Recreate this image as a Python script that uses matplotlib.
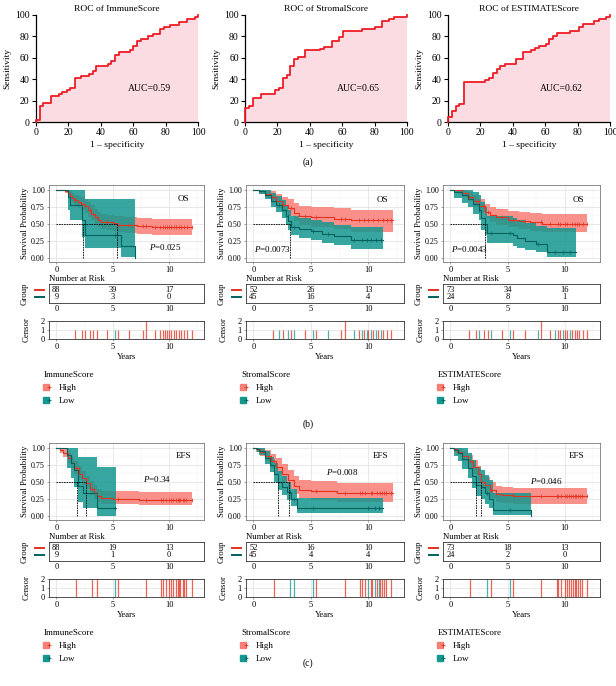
import numpy as np
import matplotlib
matplotlib.use('Agg')
import matplotlib.pyplot as plt
from matplotlib.lines import Line2D
from matplotlib.legend_handler import HandlerTuple

plt.rcParams['font.family'] = ['Liberation Serif', 'DejaVu Serif']
plt.rcParams['mathtext.fontset'] = 'custom'
plt.rcParams['mathtext.it'] = 'Liberation Serif:italic'
plt.rcParams['mathtext.rm'] = 'Liberation Serif'

# ---------------- ROC data ----------------
roc_names = ['ImmuneScore', 'StromalScore', 'ESTIMATEScore']
roc_auc = ['0.59', '0.65', '0.62']
roc1_fpr = [0, 0, 2.5, 4.5, 9, 14, 16, 19, 21, 24, 28, 33, 35, 37, 44.5, 46.5, 49, 51, 58, 60, 62.5, 65, 69, 72, 76.5, 79, 83, 88, 93, 98, 100]
roc1_tpr = [0, 2, 15, 18, 24, 26, 28, 30, 32, 41, 43, 45, 48, 52, 54, 57, 63, 65, 67, 71, 76, 78, 80, 82, 87, 89, 91, 93, 96, 98, 100]
roc2_fpr = [0, 0, 2.7, 5, 9.7, 18.6, 21, 23.3, 25.8, 28, 30.5, 33, 37, 46.4, 48.5, 53.6, 58, 60.4, 72, 80, 84.5, 89, 91.8, 100]
roc2_tpr = [0, 13, 15, 22, 26, 30, 32, 41, 44, 52, 59, 61, 67, 68, 70, 76, 79, 85, 87, 89, 94, 96, 98, 100]
roc3_fpr = [0, 0, 2.5, 5, 7, 9.7, 23, 25.3, 27.7, 30, 32, 35, 42, 46.6, 51, 54, 56, 60.6, 62.6, 65, 67.5, 75, 81, 83.6, 90, 93, 97.7, 100]
roc3_tpr = [0, 5, 10, 15, 17, 37, 39, 41, 46, 50, 52, 54, 59, 65, 67, 69, 71, 73, 78, 80, 83, 85, 89, 92, 94, 96, 98, 100]

# ---------------- KM data (b: OS, c: EFS) ----------------
# ImmuneScore OS
b1_hi_t = [0, 0.8, 1.0, 1.2, 1.4, 1.6, 1.9, 2.2, 2.5, 2.8, 3.1, 3.4, 3.7, 4.0, 4.5, 5.0, 5.4, 6.0, 7.2, 8.5, 12.0]
b1_hi_s = [1.00, 0.98, 0.95, 0.91, 0.88, 0.85, 0.82, 0.79, 0.76, 0.70, 0.65, 0.60, 0.56, 0.53, 0.52, 0.51, 0.49, 0.48, 0.47, 0.45, 0.45]
b1_hi_lo = [1.00, 0.95, 0.90, 0.85, 0.81, 0.77, 0.73, 0.70, 0.66, 0.60, 0.55, 0.50, 0.46, 0.43, 0.41, 0.40, 0.38, 0.37, 0.35, 0.34, 0.34]
b1_hi_up = [1.00, 1.00, 1.00, 0.98, 0.95, 0.93, 0.91, 0.89, 0.87, 0.82, 0.77, 0.72, 0.68, 0.65, 0.63, 0.62, 0.61, 0.60, 0.58, 0.57, 0.57]
b1_lo_t = [0, 1.0, 1.2, 2.3, 2.5, 5.75, 7.0]
b1_lo_s = [1.00, 0.89, 0.78, 0.56, 0.33, 0.17, 0.00]
b1_lo_lo = [1.00, 0.70, 0.55, 0.30, 0.14, 0.02, 0.00]
b1_lo_up = [1.00, 1.00, 1.00, 1.00, 0.87, 0.87, 0.87]
b1_med = [2.4, 5.4]
# StromalScore OS
b2_hi_t = [0, 0.5, 1.0, 1.5, 2.0, 2.5, 3.0, 3.5, 4.0, 5.0, 7.0, 8.5, 12.1]
b2_hi_s = [1.00, 0.98, 0.94, 0.89, 0.83, 0.78, 0.73, 0.66, 0.61, 0.60, 0.57, 0.55, 0.55]
b2_hi_lo = [1.00, 0.94, 0.88, 0.81, 0.73, 0.67, 0.61, 0.54, 0.48, 0.46, 0.42, 0.38, 0.37]
b2_hi_up = [1.00, 1.00, 1.00, 0.98, 0.94, 0.90, 0.86, 0.80, 0.76, 0.75, 0.73, 0.71, 0.71]
b2_lo_t = [0, 0.5, 1.0, 1.5, 2.0, 2.5, 2.8, 3.0, 3.3, 4.0, 5.0, 6.0, 7.0, 8.5, 11.3]
b2_lo_s = [1.00, 0.98, 0.93, 0.84, 0.78, 0.71, 0.62, 0.54, 0.46, 0.42, 0.39, 0.35, 0.32, 0.26, 0.26]
b2_lo_lo = [1.00, 0.94, 0.86, 0.74, 0.67, 0.59, 0.49, 0.41, 0.33, 0.29, 0.26, 0.22, 0.19, 0.13, 0.11]
b2_lo_up = [1.00, 1.00, 1.00, 0.95, 0.91, 0.85, 0.77, 0.70, 0.62, 0.58, 0.55, 0.52, 0.49, 0.45, 0.44]
b2_med = [3.2]
# ESTIMATEScore OS
b3_hi_t = [0, 0.5, 1.0, 1.5, 2.0, 2.5, 3.0, 3.5, 4.0, 5.0, 6.0, 7.0, 8.0, 12.0]
b3_hi_s = [1.00, 0.99, 0.95, 0.90, 0.83, 0.76, 0.68, 0.63, 0.60, 0.56, 0.54, 0.52, 0.50, 0.50]
b3_hi_lo = [1.00, 0.96, 0.90, 0.83, 0.75, 0.67, 0.58, 0.52, 0.49, 0.45, 0.42, 0.40, 0.38, 0.38]
b3_hi_up = [1.00, 1.00, 1.00, 0.97, 0.92, 0.86, 0.79, 0.75, 0.72, 0.69, 0.67, 0.66, 0.64, 0.63]
b3_lo_t = [0, 0.3, 1.0, 1.5, 2.0, 2.5, 2.7, 3.0, 3.2, 5.5, 5.8, 6.5, 7.5, 8.5, 11.0]
b3_lo_s = [1.00, 0.96, 0.92, 0.87, 0.79, 0.71, 0.58, 0.50, 0.37, 0.33, 0.29, 0.25, 0.21, 0.08, 0.08]
b3_lo_lo = [1.00, 0.88, 0.81, 0.74, 0.64, 0.55, 0.41, 0.33, 0.22, 0.18, 0.15, 0.11, 0.08, 0.01, 0.00]
b3_lo_up = [1.00, 1.00, 1.00, 1.00, 0.97, 0.92, 0.82, 0.75, 0.62, 0.58, 0.55, 0.51, 0.47, 0.44, 0.44]
b3_med = [3.05]
# ImmuneScore EFS
c1_hi_t = [0, 0.3, 0.6, 1.0, 1.3, 1.6, 2.0, 2.3, 2.6, 3.0, 3.3, 3.6, 4.0, 5.0, 7.3, 12.0]
c1_hi_s = [1.00, 0.97, 0.92, 0.85, 0.78, 0.71, 0.62, 0.55, 0.48, 0.40, 0.34, 0.29, 0.26, 0.25, 0.24, 0.24]
c1_hi_lo = [1.00, 0.93, 0.87, 0.78, 0.70, 0.62, 0.53, 0.46, 0.39, 0.31, 0.25, 0.21, 0.18, 0.17, 0.16, 0.16]
c1_hi_up = [1.00, 1.00, 0.98, 0.93, 0.87, 0.81, 0.73, 0.66, 0.59, 0.51, 0.45, 0.40, 0.37, 0.36, 0.35, 0.35]
c1_lo_t = [0, 0.95, 1.3, 1.6, 1.9, 2.4, 3.6, 5.3]
c1_lo_s = [1.00, 0.89, 0.78, 0.67, 0.44, 0.33, 0.11, 0.11]
c1_lo_lo = [1.00, 0.70, 0.55, 0.42, 0.20, 0.12, 0.00, 0.00]
c1_lo_up = [1.00, 1.00, 1.00, 1.00, 0.86, 0.86, 0.72, 0.72]
c1_med = [1.87, 2.6]
# StromalScore EFS
c2_hi_t = [0, 0.2, 0.6, 1.0, 1.5, 2.0, 2.5, 3.0, 3.5, 4.0, 5.0, 7.3, 12.1]
c2_hi_s = [1.00, 0.98, 0.94, 0.88, 0.80, 0.72, 0.62, 0.52, 0.44, 0.38, 0.36, 0.33, 0.33]
c2_hi_lo = [1.00, 0.94, 0.88, 0.80, 0.70, 0.61, 0.50, 0.40, 0.32, 0.26, 0.24, 0.21, 0.21]
c2_hi_up = [1.00, 1.00, 1.00, 0.97, 0.91, 0.85, 0.76, 0.67, 0.59, 0.53, 0.51, 0.48, 0.47]
c2_lo_t = [0, 0.3, 0.5, 1.0, 1.4, 1.8, 2.1, 2.5, 2.9, 3.3, 3.8, 11.3]
c2_lo_s = [1.00, 0.98, 0.95, 0.85, 0.75, 0.62, 0.50, 0.42, 0.35, 0.25, 0.11, 0.11]
c2_lo_lo = [1.00, 0.94, 0.89, 0.76, 0.64, 0.50, 0.38, 0.30, 0.23, 0.15, 0.04, 0.04]
c2_lo_up = [1.00, 1.00, 1.00, 0.95, 0.87, 0.77, 0.66, 0.58, 0.50, 0.40, 0.26, 0.26]
c2_med = [2.1, 3.06]
# ESTIMATEScore EFS
c3_hi_t = [0, 0.3, 0.6, 1.0, 1.5, 2.0, 2.4, 2.7, 3.0, 3.5, 4.0, 4.5, 5.5, 12.0]
c3_hi_s = [1.00, 0.98, 0.94, 0.88, 0.80, 0.72, 0.62, 0.50, 0.45, 0.38, 0.32, 0.30, 0.29, 0.29]
c3_hi_lo = [1.00, 0.95, 0.89, 0.81, 0.71, 0.62, 0.51, 0.39, 0.34, 0.27, 0.21, 0.19, 0.18, 0.17]
c3_hi_up = [1.00, 1.00, 0.99, 0.95, 0.89, 0.82, 0.73, 0.62, 0.57, 0.50, 0.44, 0.42, 0.41, 0.41]
c3_lo_t = [0, 0.3, 0.7, 1.0, 1.5, 1.9, 2.2, 2.7, 3.0, 3.4, 3.7, 7.1]
c3_lo_s = [1.00, 0.96, 0.92, 0.83, 0.71, 0.58, 0.46, 0.42, 0.33, 0.25, 0.08, 0.00]
c3_lo_lo = [1.00, 0.88, 0.81, 0.69, 0.55, 0.41, 0.29, 0.25, 0.17, 0.11, 0.01, 0.00]
c3_lo_up = [1.00, 1.00, 1.00, 0.99, 0.92, 0.82, 0.72, 0.68, 0.60, 0.52, 0.34, 0.34]
c3_med = [2.2, 2.67]

km_endpoint = ['OS', 'OS', 'OS', 'EFS', 'EFS', 'EFS']
km_pvals = ['0.025', '0.0073', '0.0043', '0.34', '0.008', '0.046']

# numbers at risk at 0, 5, 10 years
risk_times = [0, 5, 10]
risk_hi = [[88, 39, 17], [52, 26, 13], [73, 34, 16], [88, 19, 13], [52, 16, 10], [73, 18, 13]]
risk_lo = [[9, 3, 0], [45, 16, 4], [24, 8, 1], [9, 1, 0], [45, 4, 4], [24, 2, 0]]

# censoring times
os_cens_t = [1.67, 2.25, 2.54, 2.98, 3.27, 3.57, 4.5, 5.18, 5.47, 6.49, 7.66, 7.95, 8.74, 9.18, 9.42, 9.62, 9.85, 10.0, 10.2, 10.44, 10.64, 10.88, 11.1, 11.3, 11.6, 12.0]
os_cens_n = [1, 1, 1, 1, 1, 1, 1, 1, 1, 1, 1, 2, 1, 1, 1, 1, 1, 1, 1, 1, 1, 1, 1, 1, 1, 1]
b1_cens_g = ['H', 'H', 'H', 'H', 'H', 'H', 'H', 'L', 'H', 'H', 'H', 'H', 'H', 'H', 'H', 'H', 'H', 'H', 'H', 'H', 'H', 'H', 'H', 'H', 'H', 'H']
b2_cens_g = ['H', 'L', 'H', 'L', 'H', 'L', 'H', 'L', 'H', 'L', 'H', 'H', 'L', 'H', 'L', 'H', 'L', 'H', 'L', 'H', 'L', 'H', 'L', 'H', 'H', 'H']
b3_cens_g = ['H', 'H', 'L', 'H', 'H', 'L', 'H', 'L', 'H', 'H', 'L', 'H', 'H', 'L', 'H', 'H', 'L', 'H', 'H', 'L', 'H', 'H', 'H', 'H', 'H', 'H']
efs_cens_t = [1.75, 3.2, 3.57, 5.18, 5.47, 7.95, 9.3, 9.45, 9.7, 10.0, 10.2, 10.35, 10.6, 10.75, 10.9, 11.0, 11.2, 11.35, 11.5, 12.0]
efs_cens_n = [2, 2, 2, 2, 2, 2, 2, 2, 2, 2, 2, 2, 2, 2, 2, 2, 2, 2, 2, 2]
c1_cens_g = ['H', 'H', 'H', 'L', 'H', 'H', 'H', 'H', 'H', 'H', 'H', 'H', 'H', 'H', 'H', 'H', 'H', 'H', 'H', 'H']
c2_cens_g = ['H', 'L', 'L', 'L', 'H', 'H', 'H', 'H', 'H', 'L', 'H', 'H', 'L', 'H', 'L', 'H', 'H', 'H', 'H', 'H']
c3_cens_g = ['H', 'L', 'H', 'L', 'H', 'H', 'H', 'H', 'H', 'H', 'H', 'H', 'H', 'H', 'H', 'H', 'H', 'H', 'H', 'H']

# ---------------- styling ----------------
RED_LINE = '#e3321f'
RED_FILL = '#f8766d'
TEAL_LINE = '#00615d'
TEAL_FILL = '#14978f'
W, H = 616, 686
fig = plt.figure(figsize=(W / 100, H / 100), dpi=100)


def pax(l, t, r, b):
    return fig.add_axes([l / W, 1 - b / H, (r - l) / W, (b - t) / H])


# ---------------- (a) ROC ----------------
roc_cols = [(36, 198), (245, 407), (448, 610)]
roc_data = [(roc1_fpr, roc1_tpr), (roc2_fpr, roc2_tpr), (roc3_fpr, roc3_tpr)]
for (l, r), (fpr, tpr), name, auc in zip(roc_cols, roc_data, roc_names, roc_auc):
    ax = pax(l, 15, r, 122)
    ax.fill_between(fpr, tpr, step='post', color='#fbdce3', lw=0)
    ax.step(fpr, tpr, where='post', color='#ee1c25', lw=1.3, clip_on=False, zorder=3)
    ax.set_xlim(0, 100)
    ax.set_ylim(0, 100)
    ax.set_xticks(range(0, 101, 20))
    ax.set_yticks(range(0, 101, 20))
    for s in ['top', 'right']:
        ax.spines[s].set_visible(False)
    for s in ['left', 'bottom']:
        ax.spines[s].set_linewidth(0.9)
    ax.tick_params(labelsize=7, length=3, width=0.8, pad=1.5)
    ax.set_title(f'ROC of {name}', fontsize=6.8, pad=3)
    ax.set_xlabel('1 – specificity', fontsize=6.8, labelpad=3)
    ax.set_ylabel('Sensitivity', fontsize=6.8, labelpad=3)
    ax.text(70, 31, f'AUC={auc}', fontsize=7, ha='center', va='center')

fig.text(308 / W, 1 - 162 / H, '(a)', ha='center', va='center', fontsize=7)
fig.text(308 / W, 1 - 424 / H, '(b)', ha='center', va='center', fontsize=7)
fig.text(308 / W, 1 - 663 / H, '(c)', ha='center', va='center', fontsize=7)

# ---------------- KM panels ----------------
km_cols = [(49, 204), (246, 404), (443, 600)]
XL = (-0.65, 13.1)
curves = [
    (b1_hi_t, b1_hi_s, b1_hi_lo, b1_hi_up, b1_lo_t, b1_lo_s, b1_lo_lo, b1_lo_up, b1_med),
    (b2_hi_t, b2_hi_s, b2_hi_lo, b2_hi_up, b2_lo_t, b2_lo_s, b2_lo_lo, b2_lo_up, b2_med),
    (b3_hi_t, b3_hi_s, b3_hi_lo, b3_hi_up, b3_lo_t, b3_lo_s, b3_lo_lo, b3_lo_up, b3_med),
    (c1_hi_t, c1_hi_s, c1_hi_lo, c1_hi_up, c1_lo_t, c1_lo_s, c1_lo_lo, c1_lo_up, c1_med),
    (c2_hi_t, c2_hi_s, c2_hi_lo, c2_hi_up, c2_lo_t, c2_lo_s, c2_lo_lo, c2_lo_up, c2_med),
    (c3_hi_t, c3_hi_s, c3_hi_lo, c3_hi_up, c3_lo_t, c3_lo_s, c3_lo_lo, c3_lo_up, c3_med),
]
cens = [
    (os_cens_t, os_cens_n, b1_cens_g), (os_cens_t, os_cens_n, b2_cens_g), (os_cens_t, os_cens_n, b3_cens_g),
    (efs_cens_t, efs_cens_n, c1_cens_g), (efs_cens_t, efs_cens_n, c2_cens_g), (efs_cens_t, efs_cens_n, c3_cens_g),
]
ptext_pos = [(0.75, 0.19), (0.165, 0.17), (0.17, 0.17), (0.70, 0.53), (0.61, 0.62), (0.66, 0.51)]
ep_pos = [(0.87, 0.82), (0.86, 0.80), (0.86, 0.80), (0.87, 0.83), (0.85, 0.83), (0.85, 0.83)]


def surv_at(t_arr, s_arr, x):
    idx = np.searchsorted(np.asarray(t_arr), x, side='right') - 1
    return np.asarray(s_arr)[np.clip(idx, 0, len(s_arr) - 1)]


def grid_style(ax):
    ax.set_xticks([0, 5, 10])
    ax.set_xticks([2.5, 7.5, 12.5], minor=True)
    ax.grid(True, which='major', color='#dedede', lw=0.5)
    ax.grid(True, which='minor', color='#efefef', lw=0.35)
    ax.set_axisbelow(True)
    for s in ax.spines.values():
        s.set_color('#7a7a7a')
        s.set_linewidth(0.6)
    ax.tick_params(which='both', length=1.5, width=0.4, color='#555555', labelsize=6, pad=1.5)
    ax.tick_params(which='minor', length=0)


for i in range(6):
    col = i % 3
    l, r = km_cols[col]
    off = 0 if i < 3 else 258
    hi_t, hi_s, hi_lo, hi_up, lo_t, lo_s, lo_lo, lo_up, meds = curves[i]
    ct, cn, cg = cens[i]

    # survival axes
    ax = pax(l, 185 + off, r, 262 + off)
    ax.fill_between(hi_t, hi_lo, hi_up, step='post', color=RED_FILL, alpha=0.8, lw=0, zorder=1)
    ax.fill_between(lo_t, lo_lo, lo_up, step='post', color=TEAL_FILL, alpha=0.85, lw=0, zorder=2)
    ax.step(hi_t, hi_s, where='post', color=RED_LINE, lw=0.8, zorder=4)
    ax.step(lo_t, lo_s, where='post', color=TEAL_LINE, lw=0.8, zorder=4)
    # censor marks on curves
    ct_a = np.asarray(ct)
    g_a = np.asarray(cg)
    mh = (g_a == 'H') & (ct_a <= max(hi_t))
    ml = (g_a == 'L') & (ct_a <= max(lo_t))
    ax.plot(ct_a[mh], surv_at(hi_t, hi_s, ct_a[mh]), ls='', marker='|', ms=2.2, mew=0.5, color=RED_LINE, zorder=5)
    ax.plot(ct_a[ml], surv_at(lo_t, lo_s, ct_a[ml]), ls='', marker='|', ms=2.2, mew=0.5, color=TEAL_LINE, zorder=5)
    # median lines
    ax.plot([0, max(meds)], [0.5, 0.5], color='black', lw=0.6, ls=(0, (2, 1)), zorder=6)
    for m in meds:
        ax.plot([m, m], [0, 0.5], color='black', lw=0.6, ls=(0, (2, 1)), zorder=6)
    ax.set_xlim(*XL)
    ax.set_ylim(-0.06, 1.07)
    ax.set_yticks([0, 0.25, 0.5, 0.75, 1.0])
    ax.set_yticks([0.125, 0.375, 0.625, 0.875], minor=True)
    ax.set_yticklabels(['0.00', '0.25', '0.50', '0.75', '1.00'])
    grid_style(ax)
    ax.tick_params(axis='y', labelsize=5.8)
    ax.set_ylabel('Survival Probability', fontsize=6.3, labelpad=1.5)
    ax.text(*ep_pos[i], km_endpoint[i], transform=ax.transAxes, fontsize=6.5, ha='center', va='center')
    ax.text(*ptext_pos[i], f'$P$={km_pvals[i]}', transform=ax.transAxes, fontsize=6.5, ha='center', va='center')

    # risk table
    rt = pax(l, 284 + off, r, 303 + off)
    rt.set_xlim(*XL)
    rt.set_ylim(0, 2)
    for x, nh, nl in zip(risk_times, risk_hi[i], risk_lo[i]):
        rt.text(x, 1.38, str(nh), ha='center', va='center', fontsize=6)
        rt.text(x, 0.62, str(nl), ha='center', va='center', fontsize=6)
    rt.set_yticks([])
    rt.set_xticks(risk_times)
    rt.tick_params(axis='x', length=0, labelsize=6, pad=1.5)
    for s in rt.spines.values():
        s.set_color('#333333')
        s.set_linewidth(0.6)
    rt.plot([-0.09, -0.03], [0.69, 0.69], transform=rt.transAxes, color=RED_LINE, lw=1.4, clip_on=False)
    rt.plot([-0.09, -0.03], [0.31, 0.31], transform=rt.transAxes, color=TEAL_LINE, lw=1.4, clip_on=False)
    rt.set_ylabel('Group', fontsize=6.3, labelpad=15)
    rt.text(0.0, 1.06, 'Number at Risk', transform=rt.transAxes, fontsize=6.3, ha='left', va='bottom')

    # censor plot
    cx = pax(l, 321 + off, r, 339 + off)
    cols = [RED_LINE if g == 'H' else TEAL_FILL for g in cg]
    cx.vlines(ct, 0, cn, colors=cols, lw=0.9, alpha=0.75)
    cx.set_xlim(*XL)
    cx.set_ylim(0, 2)
    cx.set_yticks([0, 1, 2])
    cx.set_yticks([0.5, 1.5], minor=True)
    grid_style(cx)
    cx.tick_params(axis='y', labelsize=6)
    for s in cx.spines.values():
        s.set_color('#333333')
    cx.set_ylabel('Censor', fontsize=6.3, labelpad=7)
    cx.set_xlabel('Years', fontsize=6.3, labelpad=1)

# legends
legend_tops = [370, 628]
for off_y in legend_tops:
    for col, name in enumerate(roc_names):
        l, r = km_cols[col]
        lax = pax(l - 6, off_y, l + 100, off_y + 40)
        lax.axis('off')
        hh = (Line2D([], [], ls='', marker='s', ms=4, color=RED_FILL, alpha=0.9),
              Line2D([], [], ls='', marker='+', ms=3, mew=0.6, color=RED_LINE))
        hl = (Line2D([], [], ls='', marker='s', ms=4, color=TEAL_FILL),
              Line2D([], [], ls='', marker='+', ms=3, mew=0.6, color=TEAL_LINE))
        lax.legend([hh, hl], ['High', 'Low'], title=name, loc='upper left',
                   handler_map={tuple: HandlerTuple(ndivide=None, pad=0)},
                   frameon=False, fontsize=6.5, title_fontsize=6.5, handlelength=0.8,
                   handletextpad=0.8, labelspacing=0.55, borderaxespad=0, borderpad=0.1,
                   alignment='left')

fig.savefig('out.png', dpi=100)
